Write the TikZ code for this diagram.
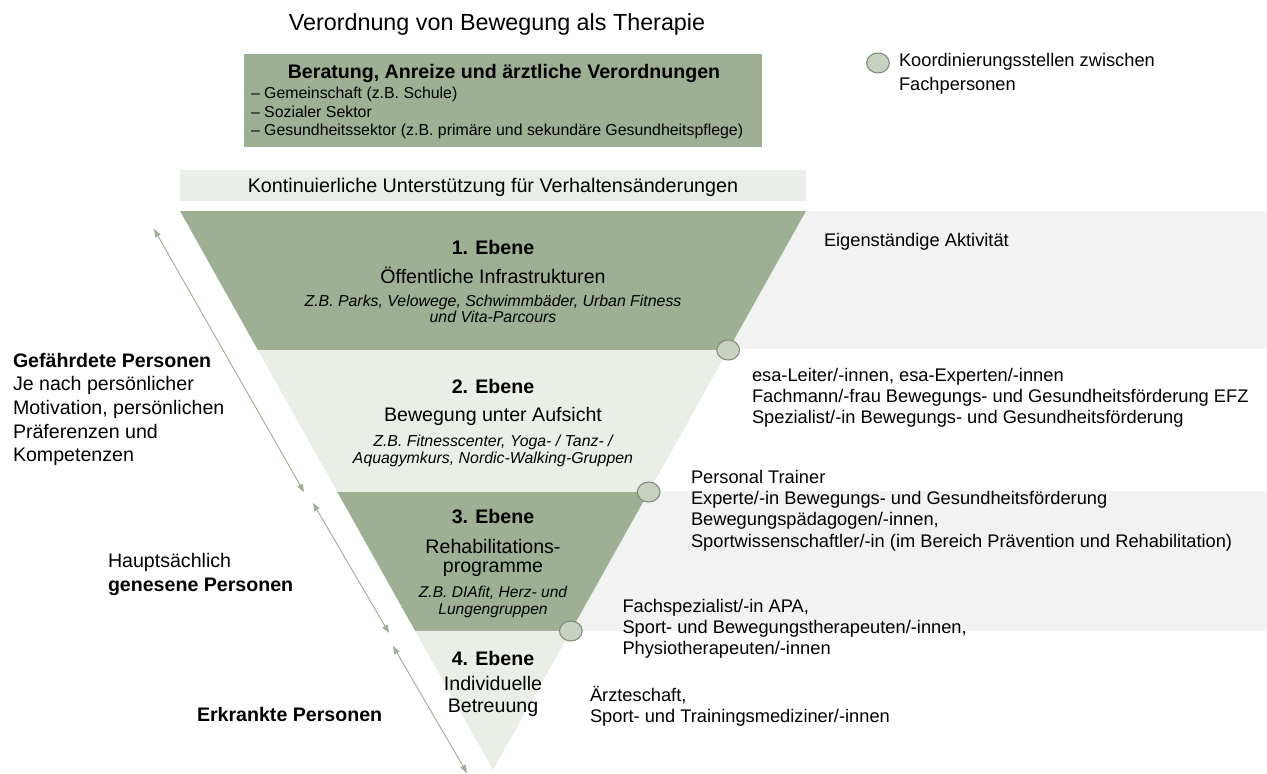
\documentclass[tikz,border=0pt]{standalone}
\usepackage{fontspec}
\setmainfont{Liberation Sans}
\usetikzlibrary{arrows.meta,calc,shapes.geometric}
\definecolor{dkgreen}{HTML}{9DB093}
\definecolor{ltgreen}{HTML}{E9EEE6}
\definecolor{barcol}{HTML}{EAEEE8}
\definecolor{panelgray}{HTML}{F2F2F2}
\definecolor{circfill}{HTML}{C7D2C0}
\definecolor{circdraw}{HTML}{7F8B79}
\definecolor{arrowcol}{HTML}{9DB093}
\begin{document}
\begin{tikzpicture}[x=0.75pt,y=-0.75pt,
  every node/.style={inner sep=0pt,outer sep=0pt},
  coordnode/.style={ellipse,draw=circdraw,fill=circfill,line width=0.8pt,minimum width=17pt,minimum height=15pt},
  sidearrow/.style={draw=arrowcol,line width=0.7pt,{Triangle[length=6pt,width=4.5pt]}-{Triangle[length=6pt,width=4.5pt]}},
  lvlhead/.style={anchor=base,font=\fontsize{14.7}{17}\selectfont\bfseries},
  lvltext/.style={anchor=base,font=\fontsize{14.7}{17}\selectfont},
  lvlex/.style={anchor=base,font=\fontsize{11.9}{12.4}\selectfont\itshape},
  righttxt/.style={anchor=base west,font=\fontsize{13.7}{16.1}\selectfont},
  lefttxt/.style={anchor=base west,font=\fontsize{14.7}{17.8}\selectfont}
]
\useasboundingbox (0,0) rectangle (1267,774);

% title
\node[anchor=base,font=\fontsize{17.5}{21}\selectfont] (title) at (497,31) {Verordnung von Bewegung als Therapie};

% legend
\node[coordnode] (leg) at (878,63) {};
\node[anchor=base west,font=\fontsize{13.7}{17.3}\selectfont] (legtxt) at (899,67)
  {\begin{tabular}[t]{@{}l@{}}Koordinierungsstellen zwischen\\Fachpersonen\end{tabular}};

% green box
\coordinate (gb1) at (244,54);
\coordinate (gb2) at (762,147);
\fill[dkgreen] (gb1) rectangle (gb2);
\node[anchor=base,font=\fontsize{14.7}{17}\selectfont\bfseries] (gbhead) at (504,78.5) {Beratung, Anreize und ärztliche Verordnungen};
\node[anchor=base west,font=\fontsize{11.9}{14.1}\selectfont] (gblist) at (251,98.3)
  {\begin{tabular}[t]{@{}l@{}}– Gemeinschaft (z.B. Schule)\\– Sozialer Sektor\\– Gesundheitssektor (z.B. primäre und sekundäre Gesundheitspflege)\end{tabular}};

% bar
\coordinate (bar1) at (180,170);
\coordinate (bar2) at (806,201);
\fill[barcol] (bar1) rectangle (bar2);
\node[anchor=base,font=\fontsize{14.8}{17}\selectfont] (bartxt) at (493,192.5) {Kontinuierliche Unterstützung für Verhaltensänderungen};

% gray panels
\fill[panelgray] (700,211) rectangle (1267,349);
\fill[panelgray] (560,491) rectangle (1267,631);

% pyramid
\coordinate (TL) at (180,211);
\coordinate (TR) at (806,211);
\coordinate (A) at (493,770);
\coordinate (L1) at ($(TL)!0.2487!(A)$);
\coordinate (R1) at ($(TR)!0.2487!(A)$);
\coordinate (L2) at ($(TL)!0.5027!(A)$);
\coordinate (R2) at ($(TR)!0.5027!(A)$);
\coordinate (L3) at ($(TL)!0.7513!(A)$);
\coordinate (R3) at ($(TR)!0.7513!(A)$);
\fill[dkgreen] (TL) -- (TR) -- (R1) -- (L1) -- cycle;
\fill[ltgreen] (L1) -- (R1) -- (R2) -- (L2) -- cycle;
\fill[dkgreen] (L2) -- (R2) -- (R3) -- (L3) -- cycle;
\fill[ltgreen] (L3) -- (R3) -- (A) -- cycle;

% coordination points
\node[coordnode] (c1) at (R1) {};
\node[coordnode] (c2) at (R2) {};
\node[coordnode] (c3) at (R3) {};

% level texts
\node[lvlhead] (lv1a) at (493,254) {1. Ebene};
\node[lvltext] (lv1b) at (493,283) {Öffentliche Infrastrukturen};
\node[lvlex] (lv1c) at (493,306) {\begin{tabular}[t]{@{}c@{}}Z.B. Parks, Velowege, Schwimmbäder, Urban Fitness\\und Vita-Parcours\end{tabular}};

\node[lvlhead] (lv2a) at (493,393) {2. Ebene};
\node[lvltext] (lv2b) at (493,421) {Bewegung unter Aufsicht};
\node[lvlex] (lv2c) at (493,446.5) {\begin{tabular}[t]{@{}c@{}}Z.B. Fitnesscenter, Yoga- / Tanz- /\\Aquagymkurs, Nordic-Walking-Gruppen\end{tabular}};

\node[lvlhead] (lv3a) at (493,523) {3. Ebene};
\node[anchor=base,font=\fontsize{14.7}{14.3}\selectfont] (lv3b) at (493,553) {\begin{tabular}[t]{@{}c@{}}Rehabilitations-\\programme\end{tabular}};
\node[anchor=base,font=\fontsize{11.7}{12.75}\selectfont\itshape] (lv3c) at (493,597) {\begin{tabular}[t]{@{}c@{}}Z.B. DIAfit, Herz- und\\Lungengruppen\end{tabular}};

\node[lvlhead] (lv4a) at (493,665) {4. Ebene};
\node[anchor=base,font=\fontsize{14.7}{16.5}\selectfont] (lv4b) at (493,690) {\begin{tabular}[t]{@{}c@{}}Individuelle\\Betreuung\end{tabular}};

% right texts
\node[righttxt] (r1) at (824,246) {Eigenständige Aktivität};
\node[righttxt] (r2) at (752,381) {\begin{tabular}[t]{@{}l@{}}esa-Leiter/-innen, esa-Experten/-innen\\Fachmann/-frau Bewegungs- und Gesundheitsförderung EFZ\\Spezialist/-in Bewegungs- und Gesundheitsförderung\end{tabular}};
\node[righttxt] (r3) at (691,483) {\begin{tabular}[t]{@{}l@{}}Personal Trainer\\Experte/-in Bewegungs- und Gesundheitsförderung\\Bewegungspädagogen/-innen,\\Sportwissenschaftler/-in (im Bereich Prävention und Rehabilitation)\end{tabular}};
\node[righttxt] (r4) at (622.5,612) {\begin{tabular}[t]{@{}l@{}}Fachspezialist/-in APA,\\Sport- und Bewegungstherapeuten/-innen,\\Physiotherapeuten/-innen\end{tabular}};
\node[righttxt] (r5) at (590,701) {\begin{tabular}[t]{@{}l@{}}Ärzteschaft,\\Sport- und Trainingsmediziner/-innen\end{tabular}};

% left texts
\node[lefttxt] (p1) at (13,367) {\begin{tabular}[t]{@{}l@{}}\textbf{Gefährdete Personen}\\Je nach persönlicher\\Motivation, persönlichen\\Präferenzen und\\Kompetenzen\end{tabular}};
\node[anchor=base west,font=\fontsize{14.7}{18}\selectfont] (p2) at (108,567) {\begin{tabular}[t]{@{}l@{}}Hauptsächlich\\\textbf{genesene Personen}\end{tabular}};
\node[lefttxt,font=\fontsize{14.7}{17.8}\selectfont\bfseries] (p3) at (197,721) {Erkrankte Personen};

% side arrows
\coordinate (a1s) at (154,229);
\coordinate (a1e) at (304,492);
\coordinate (a2s) at (313,503);
\coordinate (a2e) at (389,633);
\coordinate (a3s) at (393,646);
\coordinate (a3e) at (467,773);
\draw[sidearrow] (a1s) -- (a1e);
\draw[sidearrow] (a2s) -- (a2e);
\draw[sidearrow] (a3s) -- (a3e);
\end{tikzpicture}
\end{document}
